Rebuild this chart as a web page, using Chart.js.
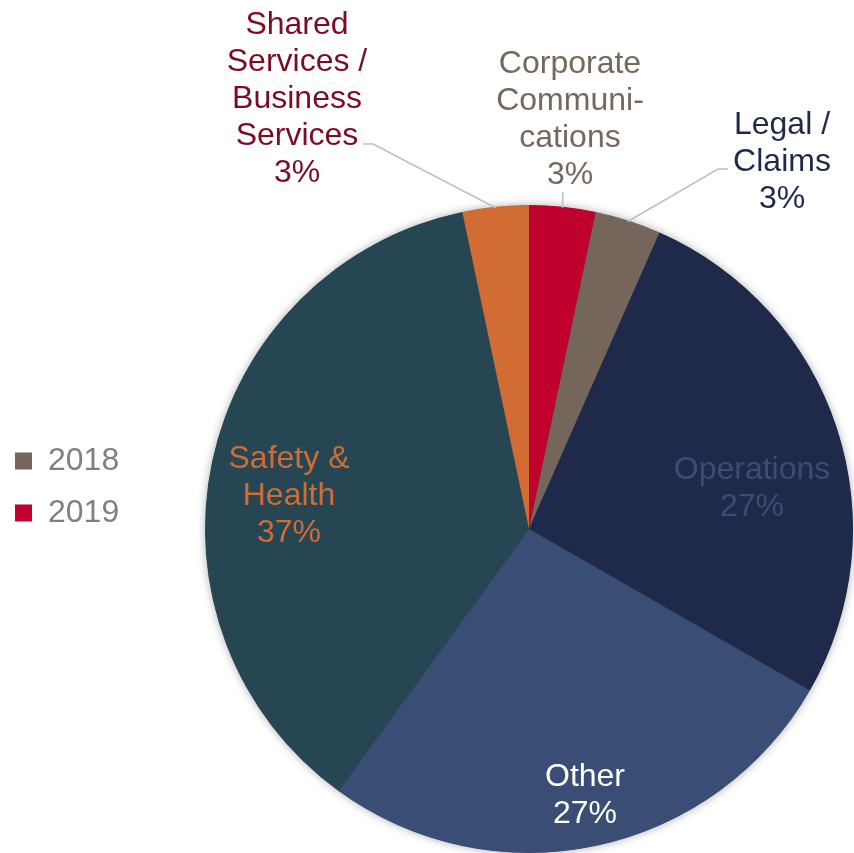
<!DOCTYPE html>
<html><head><meta charset="utf-8">
<script src="https://cdn.jsdelivr.net/npm/chart.js@4/dist/chart.umd.min.js"></script>
<style>html,body{margin:0;padding:0;background:#fff;}canvas{display:block;}</style>
</head><body>
<canvas id="c" width="854" height="853"></canvas>
<script>
// ---- data ----
const categories = ['Corporate Communications', 'Legal / Claims', 'Operations', 'Other', 'Safety & Health', 'Shared Services / Business Services'];
const shares = [3.3, 3.3, 26.7, 26.7, 36.7, 3.3];
const labelLines = [['Corporate', 'Communi-', 'cations'], ['Legal /', 'Claims'], ['Operations'], ['Other'], ['Safety &', 'Health'], ['Shared', 'Services /', 'Business', 'Services']];
const legendLabels = ['2018', '2019'];
const legendSlice = [1, 0];

// ---- styles ----
const sliceColors = ['#C0002D', '#74665A', '#1F294A', '#3A4D74', '#264653', '#D06C34'];
const labelColors = ['#76685A', '#1F294A', '#3A4D74', '#FFFFFF', '#D06C34', '#7B0C24'];
const FONT = "32px 'Liberation Sans', Arial, sans-serif";
const LINE_H = 37;
// label block centres, offsets from pie centre (px at radius 324)
const labelPlace = [
  {dx: 41, dy: -409}, {dx: 253, dy: -367}, {dx: 223, dy: -40},
  {dx: 56, dy: 267}, {dx: -240, dy: -32.5}, {dx: -232, dy: -430}
];
const leaderPts = [
  [[34, -337]], [[199, -360], [189, -360]], null, null, null, [[-166, -385], [-156, -385]]
];

const total = shares.reduce((a, b) => a + b, 0);

const areaPlugin = {
  id: 'area',
  afterLayout(chart) {
    Object.assign(chart.chartArea, {left: 205, top: 205, right: 853, bottom: 853, width: 648, height: 648});
    const lg = chart.legend;
    if (lg) {
      const w = lg.right - lg.left, h = lg.bottom - lg.top;
      lg.left = -5; lg.right = -5 + w; lg.top = 425; lg.bottom = 425 + h;
    }
  }
};

const shadowPlugin = {
  id: 'shadow',
  beforeDatasetsDraw(chart) {
    const arc = chart.getDatasetMeta(0).data[0];
    if (!arc) return;
    const ctx = chart.ctx;
    ctx.save();
    ctx.shadowColor = 'rgba(0,0,0,0.35)';
    ctx.shadowBlur = 10;
    ctx.fillStyle = '#264653';
    ctx.beginPath();
    ctx.arc(arc.x, arc.y, arc.outerRadius - 0.5, 0, Math.PI * 2);
    ctx.fill();
    ctx.restore();
  }
};

const labelPlugin = {
  id: 'sliceLabels',
  afterDatasetsDraw(chart) {
    const ctx = chart.ctx;
    const arcs = chart.getDatasetMeta(0).data;
    ctx.save();
    arcs.forEach((arc, i) => {
      const k = arc.outerRadius / 324;
      const pts = leaderPts[i];
      if (pts) {
        const mid = (arc.startAngle + arc.endAngle) / 2;
        ctx.strokeStyle = '#BFBFBF';
        ctx.lineWidth = 1.5;
        ctx.beginPath();
        pts.forEach((p, j) => {
          const x = arc.x + p[0] * k, y = arc.y + p[1] * k;
          if (j === 0) ctx.moveTo(x, y); else ctx.lineTo(x, y);
        });
        ctx.lineTo(arc.x + Math.cos(mid) * (arc.outerRadius - 1), arc.y + Math.sin(mid) * (arc.outerRadius - 1));
        ctx.stroke();
      }
      const lines = labelLines[i].concat([Math.round(shares[i] / total * 100) + '%']);
      const cx = arc.x + labelPlace[i].dx * k, cy = arc.y + labelPlace[i].dy * k;
      ctx.font = FONT;
      ctx.fillStyle = labelColors[i];
      ctx.textAlign = 'center';
      ctx.textBaseline = 'middle';
      lines.forEach((t, j) => {
        ctx.fillText(t, cx, cy + (j - (lines.length - 1) / 2) * LINE_H);
      });
    });
    ctx.restore();
  }
};

new Chart(document.getElementById('c'), {
  type: 'pie',
  data: {
    labels: categories,
    datasets: [{data: shares, backgroundColor: sliceColors, borderWidth: 0, hoverOffset: 0}]
  },
  options: {
    responsive: false,
    animation: false,
    events: [],
    rotation: 0,
    layout: {padding: 0},
    plugins: {
      tooltip: {enabled: false},
      legend: {
        position: 'left',
        align: 'start',
        labels: {
          boxWidth: 17, boxHeight: 17, padding: 20,
          color: '#808080',
          font: {family: "'Liberation Sans', Arial, sans-serif", size: 32},
          generateLabels: () => legendLabels.map((t, j) => ({
            text: t, fillStyle: sliceColors[legendSlice[j]], strokeStyle: 'rgba(0,0,0,0)', lineWidth: 0,
            fontColor: '#808080', hidden: false, index: legendSlice[j]
          }))
        }
      }
    }
  },
  plugins: [areaPlugin, shadowPlugin, labelPlugin]
});
</script>
</body></html>
